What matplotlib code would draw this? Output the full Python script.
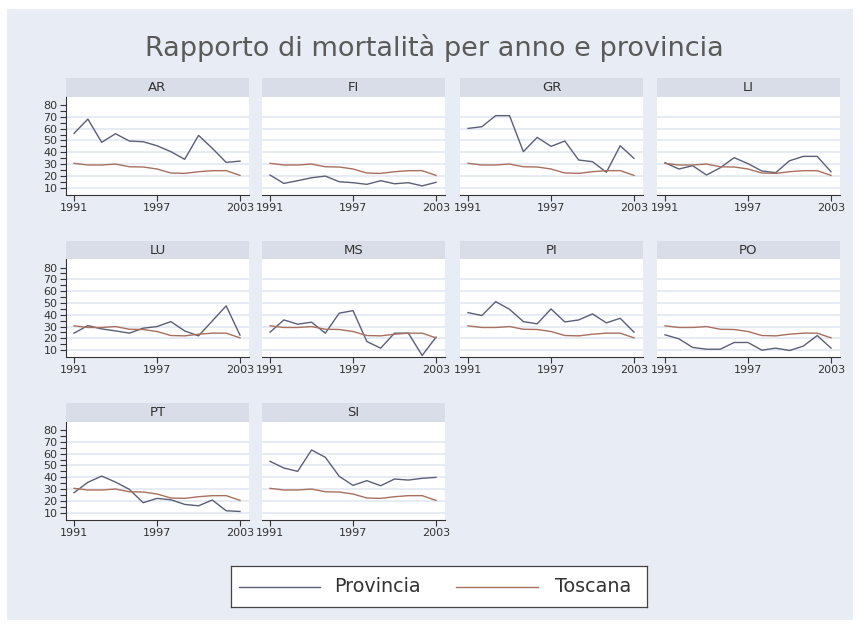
import matplotlib.pyplot as plt
from matplotlib.patches import Rectangle
from matplotlib.ticker import FixedLocator

# canvas size in pixels (dpi 100)
W, H = 861, 629

years = list(range(1991, 2004))
provinces = ["AR", "FI", "GR", "LI", "LU", "MS", "PI", "PO", "PT", "SI"]

toscana = [30.6, 29.2, 29.2, 30.0, 27.7, 27.5, 25.8, 22.4, 22.1, 23.5, 24.4, 24.4, 20.4]

ar = [56.0, 68.1, 48.4, 55.7, 49.5, 48.9, 45.5, 40.5, 34.0, 54.3, 43.3, 31.4, 32.5]
fi = [20.7, 13.6, 15.9, 18.4, 19.8, 15.0, 14.2, 12.8, 15.9, 13.3, 14.2, 11.5, 14.5]
gr = [60.2, 61.6, 71.0, 71.0, 40.5, 52.6, 45.0, 49.5, 33.4, 32.0, 23.0, 45.5, 34.8]
li = [31.1, 25.8, 28.6, 20.7, 26.9, 35.4, 30.3, 24.1, 22.7, 32.8, 36.5, 36.5, 23.5]
lu = [24.4, 30.8, 28.0, 26.3, 24.4, 28.6, 30.0, 34.2, 26.3, 22.1, 34.8, 47.5, 22.7]
ms = [25.2, 35.6, 32.0, 33.7, 24.4, 41.3, 43.5, 17.3, 11.7, 24.4, 24.4, 5.5, 21.0]
pi = [41.8, 39.3, 51.1, 44.6, 34.2, 32.3, 44.9, 33.9, 35.6, 40.7, 33.1, 37.0, 25.2]
po = [23.0, 19.6, 12.3, 10.8, 10.8, 16.5, 16.5, 10.0, 11.7, 9.7, 13.4, 22.4, 11.7]
pt = [26.9, 35.7, 41.0, 35.9, 29.7, 18.4, 22.1, 20.9, 17.0, 15.8, 20.7, 11.6, 11.0]
si = [53.5, 47.8, 45.0, 63.1, 56.9, 40.8, 33.1, 37.1, 32.8, 38.5, 37.6, 39.1, 39.9]

provincia = [ar, fi, gr, li, lu, ms, pi, po, pt, si]

y_ticks = [10, 20, 30, 40, 50, 60, 70, 80]
y_minor = [15, 25, 35, 45, 55, 65, 75]
x_ticks = [1991, 1997, 2003]

BG = "#E8ECF4"
HEADER = "#D9DDE7"
GRID = "#E3E8F1"
C_PROV = "#5B5F77"
C_TOSC = "#A8705D"
TXT = "#333333"

fig = plt.figure(figsize=(W / 100, H / 100), dpi=100, facecolor="white")
fig.patches.append(
    Rectangle((7 / W, 1 - 620 / H), (853 - 7) / W, (620 - 9) / H,
              transform=fig.transFigure, facecolor=BG, edgecolor="none", zorder=-10)
)


def px_axes(x0, y0, w, h):
    return fig.add_axes([x0 / W, 1 - (y0 + h) / H, w / W, h / H])


fig.text(434 / W, 1 - 48 / H, "Rapporto di mortalità per anno e provincia",
         ha="center", va="center", fontsize=19.5, color="#5A5A5A")

col_x = [66, 262, 460, 657]
row_top = [78, 240.5, 403]
panel_w = 183
head_h = 19
plot_h = 97.5

for i, (name, vals) in enumerate(zip(provinces, provincia)):
    r, c = divmod(i, 4)
    x0 = col_x[c]
    y0 = row_top[r]

    hax = px_axes(x0, y0, panel_w, head_h)
    hax.set_facecolor(HEADER)
    hax.set_xticks([])
    hax.set_yticks([])
    for s in hax.spines.values():
        s.set_visible(False)
    hax.text(0.5, 0.5, name, ha="center", va="center", fontsize=9.5, color=TXT,
             transform=hax.transAxes)

    ax = px_axes(x0, y0 + head_h, panel_w, plot_h)
    ax.set_facecolor("white")
    ax.plot(years, vals, color=C_PROV, lw=1.0, zorder=3)
    ax.plot(years, toscana, color=C_TOSC, lw=1.0, zorder=3)
    ax.set_xlim(1990.42, 2003.65)
    ax.set_ylim(4.2, 86.8)
    for v in [10, 20, 30, 40, 50, 60, 70]:
        ax.axhline(v, color=GRID, lw=1.2, zorder=1)

    for s in ["top", "right"]:
        ax.spines[s].set_visible(False)
    ax.spines["bottom"].set_color(TXT)
    ax.spines["bottom"].set_linewidth(0.8)
    ax.set_xticks(x_ticks)
    ax.set_xticklabels([str(t) for t in x_ticks])
    ax.tick_params(axis="x", length=4, width=0.8, color=TXT, labelsize=8,
                   labelcolor=TXT, pad=2)

    if c == 0:
        ax.spines["left"].set_color(TXT)
        ax.spines["left"].set_linewidth(0.8)
        ax.set_yticks(y_ticks)
        ax.yaxis.set_minor_locator(FixedLocator(y_minor))
        ax.tick_params(axis="y", which="both", length=4, width=0.8, color=TXT,
                       labelsize=8, labelcolor=TXT, pad=2)
    else:
        ax.spines["left"].set_visible(False)
        ax.set_yticks([])

# legend box drawn in its own axes
lax = px_axes(231, 566, 416, 41)
lax.set_xlim(0, 1)
lax.set_ylim(0, 1)
lax.set_xticks([])
lax.set_yticks([])
lax.set_facecolor("white")
for s in lax.spines.values():
    s.set_color("#444444")
    s.set_linewidth(0.9)
lax.plot([0.019, 0.214], [0.5, 0.5], color=C_PROV, lw=1.0)
lax.text(0.248, 0.5, "Provincia", ha="left", va="center", fontsize=13.8, color=TXT)
lax.plot([0.541, 0.738], [0.5, 0.5], color=C_TOSC, lw=1.0)
lax.text(0.779, 0.5, "Toscana", ha="left", va="center", fontsize=13.8, color=TXT)

fig.savefig("out.png", dpi=100, facecolor="white")
